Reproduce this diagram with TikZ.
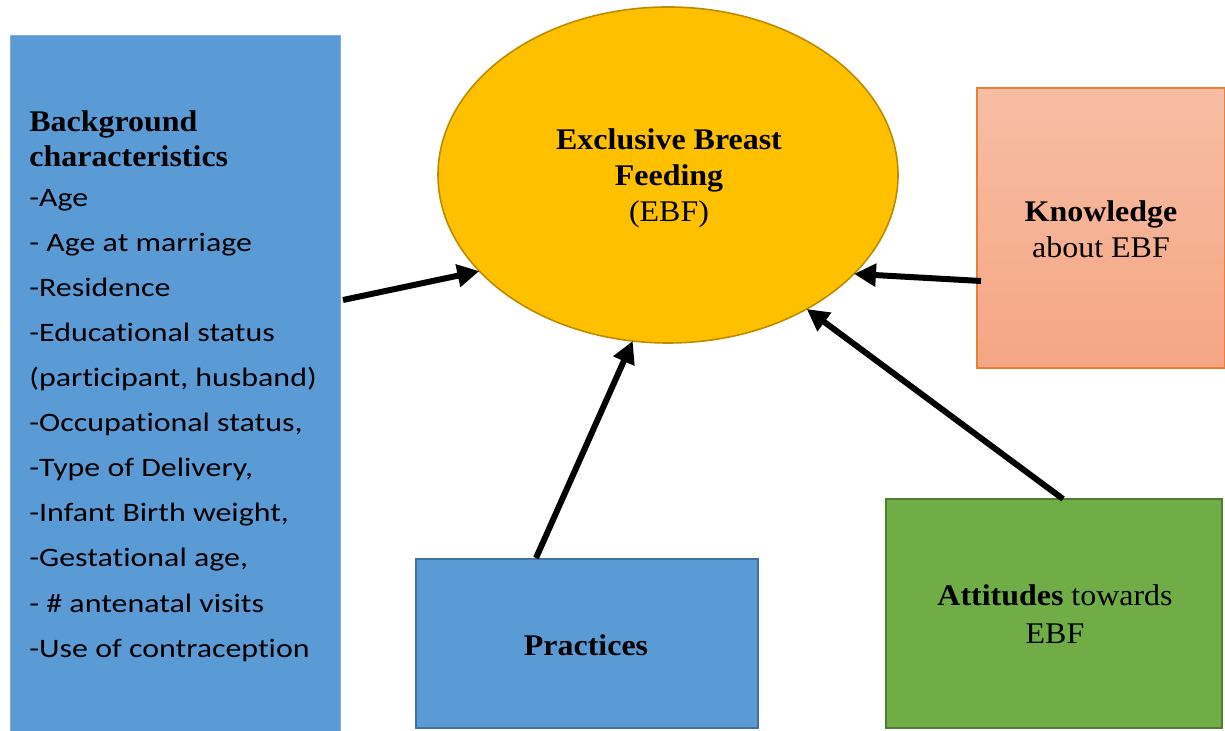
\documentclass[tikz,border=0pt]{standalone}
\usepackage{fontspec}
\setmainfont[FakeStretch=1.065]{Liberation Serif}
\newfontfamily\calfont[FakeStretch=1.2,Ligatures=NoCommon]{Carlito}
\usetikzlibrary{arrows.meta,shapes.geometric}
\definecolor{boxblue}{RGB}{91,155,213}
\definecolor{boxblueline}{RGB}{65,113,156}
\definecolor{ebfgold}{RGB}{255,192,0}
\definecolor{ebfline}{RGB}{188,140,0}
\definecolor{attgreen}{RGB}{112,173,71}
\definecolor{attline}{RGB}{80,126,50}
\definecolor{knowtop}{RGB}{247,190,165}
\definecolor{knowbot}{RGB}{244,166,131}
\definecolor{knowline}{RGB}{237,125,49}
\tikzset{
  plainbox/.style={rectangle, inner sep=0pt, outer sep=0pt, anchor=north west},
  serif/.style={font=\fontsize{15}{18}\selectfont, inner sep=0pt, anchor=base},
  listtxt/.style={font=\calfont\fontsize{13.3}{16}\selectfont, inner sep=0pt, anchor=base west},
  conn/.style={line width=3pt, -{Triangle[length=11pt,width=11pt]}}
}
\begin{document}
\begin{tikzpicture}[x=0.5pt,y=-0.5pt]
\useasboundingbox (0,0) rectangle (1225,731);
% boxes
\node[plainbox, fill=boxblue, draw=boxblue!80!white, line width=0.5pt,
  minimum width=165pt, minimum height=347.5pt] (bg) at (10,36) {};
\node[ellipse, fill=ebfgold, draw=ebfline, line width=0.8pt, inner sep=0pt, outer sep=0pt,
  minimum width=230pt, minimum height=168pt] (ebf) at (668,175) {};
\node[plainbox, top color=knowtop, bottom color=knowbot, draw=knowline, line width=0.6pt,
  minimum width=124pt, minimum height=140pt] (know) at (977,88) {};
\node[plainbox, fill=boxblue, draw=boxblueline, line width=0.8pt,
  minimum width=171pt, minimum height=84.5pt] (prac) at (416,559) {};
\node[plainbox, fill=attgreen, draw=attline, line width=0.8pt,
  minimum width=168pt, minimum height=114.5pt] (att) at (886,499) {};
% background text
\node[serif, anchor=base west] (bgt1) at (29,132) {\textbf{Background}};
\node[serif, anchor=base west] (bgt2) at (29,167) {\textbf{characteristics}};
\foreach \t [count=\i] in {{-Age},{- Age at marriage},{-Residence},{-Educational status},
  {(participant, husband)},{-Occupational status,},{-Type of Delivery,},
  {-Infant Birth weight,},{-Gestational age,},{- \# antenatal visits},{-Use of contraception}}
  \node[listtxt] (li\i) at (29,{207+45*(\i-1)}) {\t};
% EBF text
\node[serif] (e1) at (669,150) {\textbf{Exclusive Breast}};
\node[serif] (e2) at (669,186) {\textbf{Feeding}};
\node[serif] (e3) at (669,222) {(EBF)};
% knowledge text
\node[serif] (k1) at (1101,222) {\textbf{Knowledge}};
\node[serif] (k2) at (1101,258) {about EBF};
% practices text
\node[serif] (p1) at (586,655) {\textbf{Practices}};
% attitudes text
\node[serif] (a1) at (1055,605) {\textbf{Attitudes} towards};
\node[serif] (a2) at (1055,643) {EBF};
% arrow tails
\coordinate (tbg) at (343,300);
\coordinate (tkn) at (981,281);
\coordinate (tpr) at (536,558);
\coordinate (tat) at (1063,499);
\draw[conn] (tbg) -- (ebf.207.3);
\draw[conn] (tkn) -- (ebf.332);
\draw[conn] (tpr) -- (ebf.258.4);
\draw[conn] (tat) -- (ebf.316);
\end{tikzpicture}
\end{document}
